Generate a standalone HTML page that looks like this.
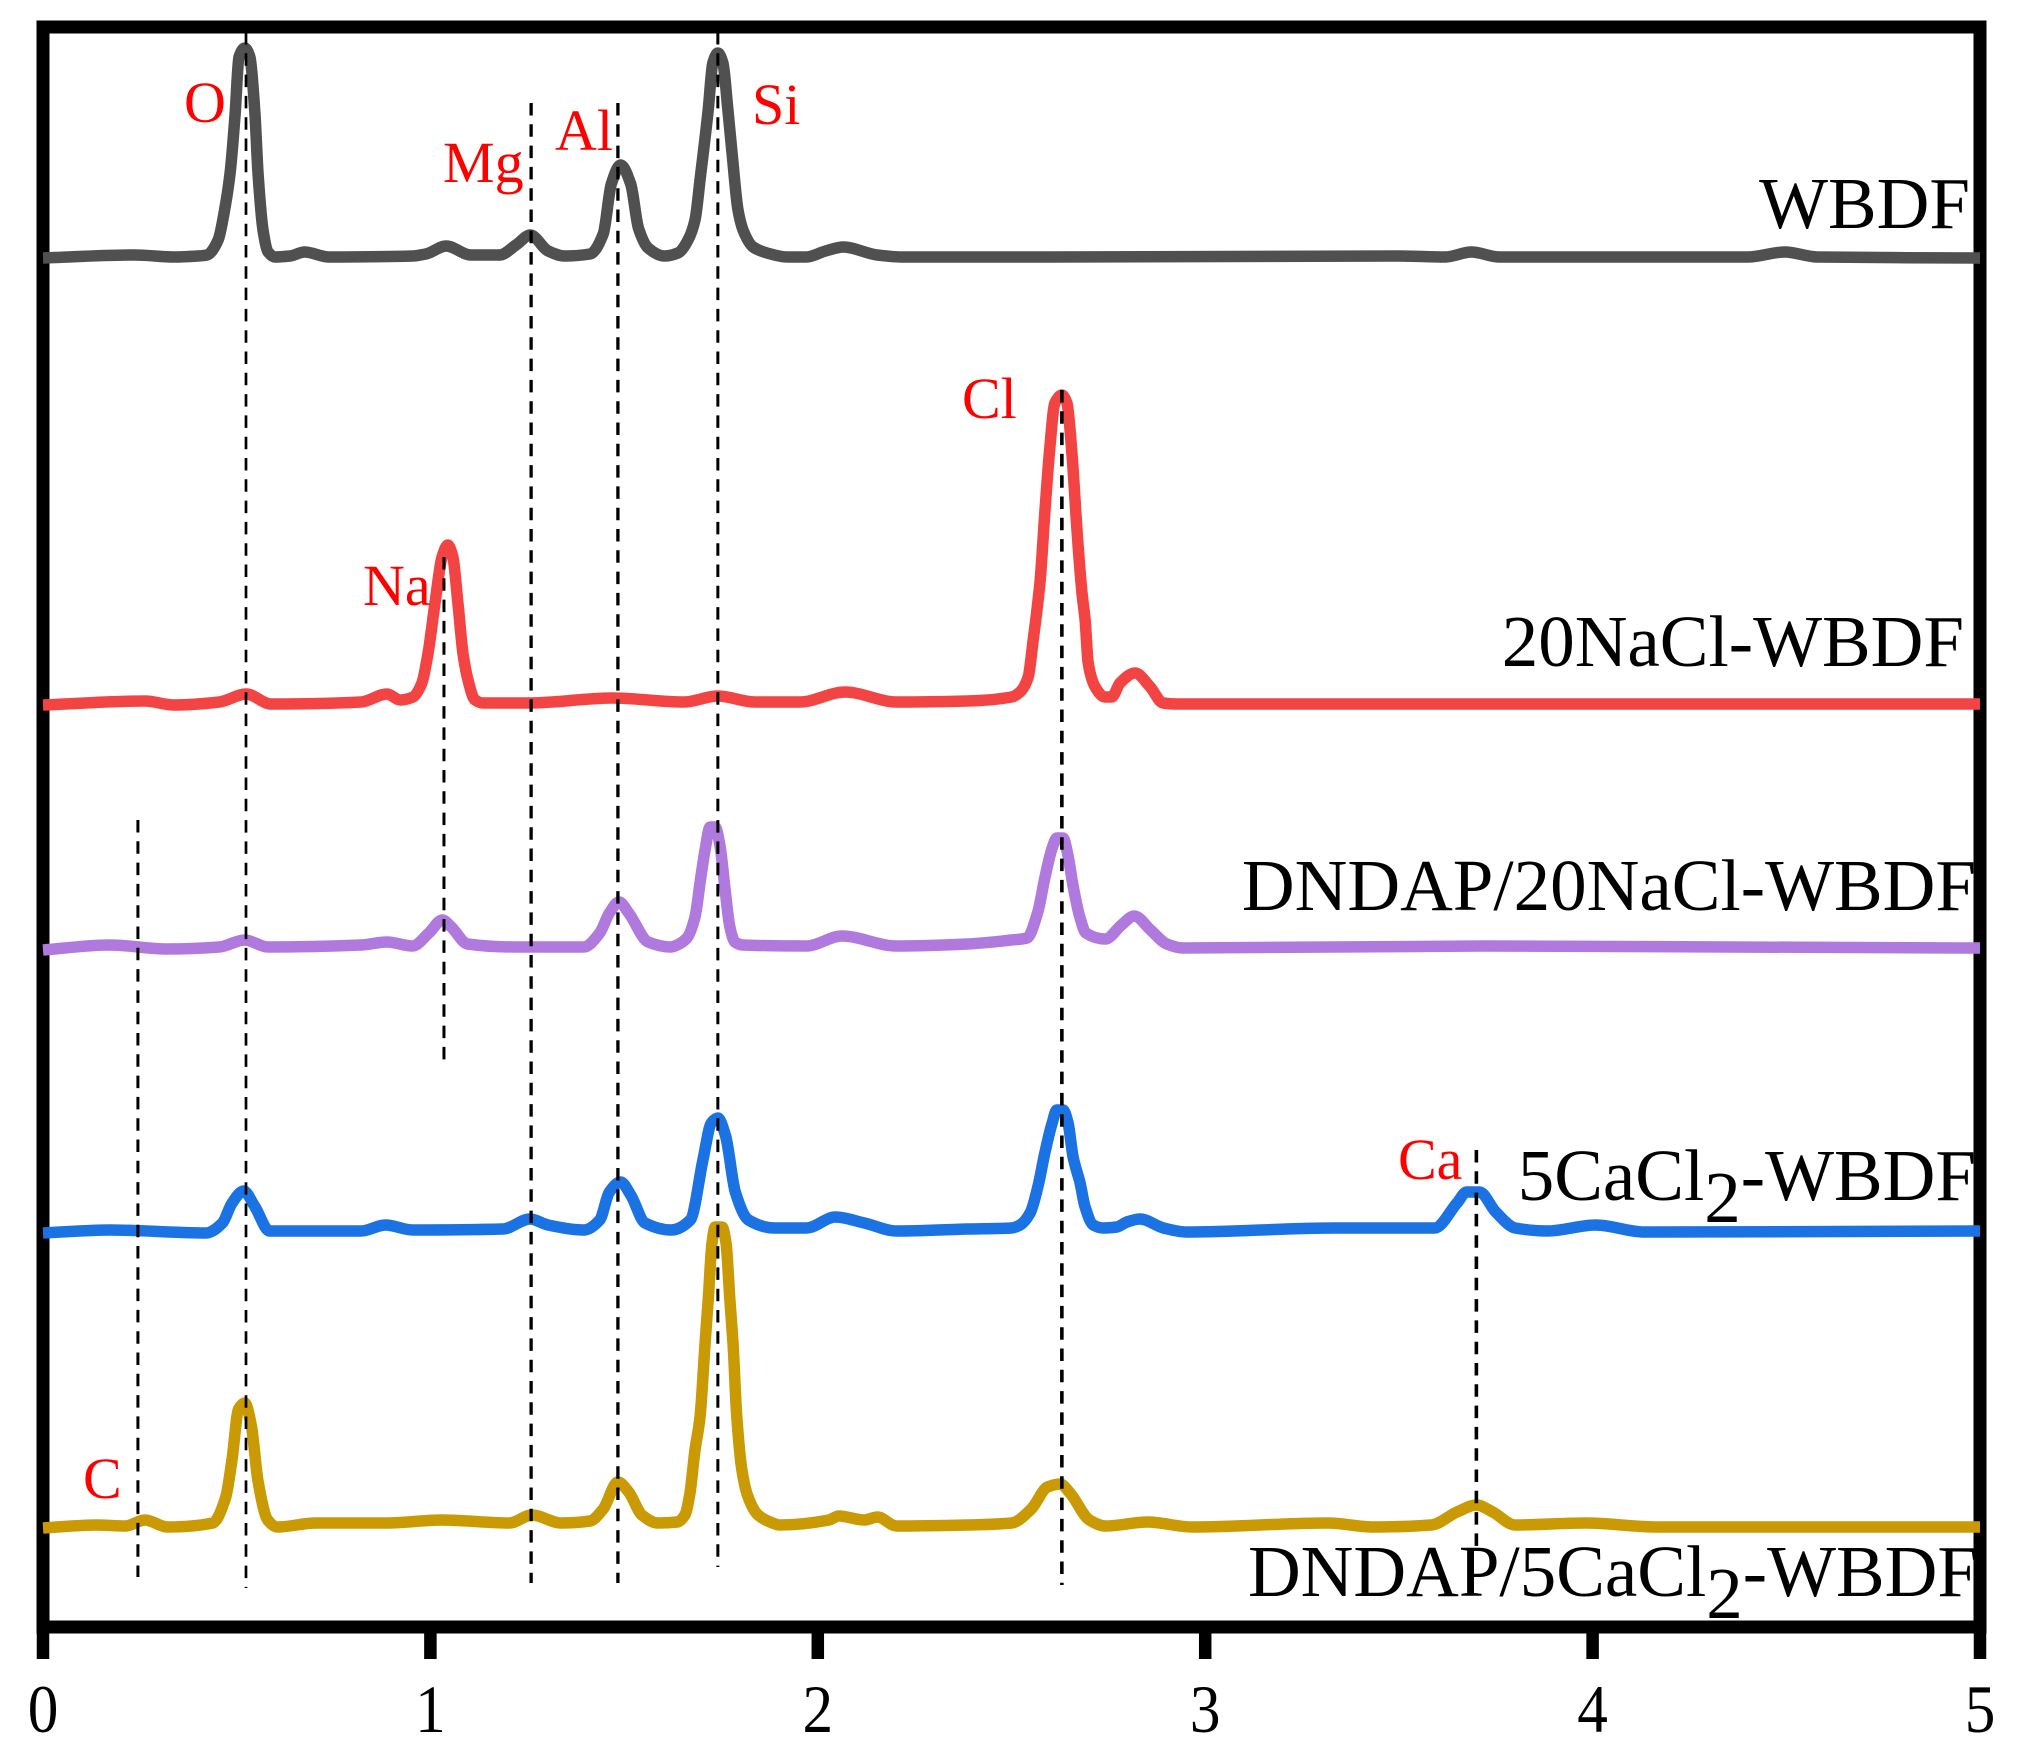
<!DOCTYPE html>
<html lang="en">
<head>
<meta charset="utf-8">
<title>EDS spectra of WBDF samples</title>
<style>
html,body{margin:0;padding:0;background:#fff;width:2024px;height:1748px;overflow:hidden}
svg{display:block}
text{font-family:"Liberation Serif",serif}
.sample{font-size:73px;fill:#000;text-anchor:end}
.element{font-size:58px;fill:#ff0000}
.tick-label{font-size:68px;fill:#000;text-anchor:middle}
</style>
</head>
<body>
<svg id="chart" xmlns="http://www.w3.org/2000/svg" width="2024" height="1748" viewBox="0 0 2024 1748">
  <rect x="0" y="0" width="2024" height="1748" fill="#ffffff"/>
  <g id="axes"></g>
  <g id="series"></g>
  <g id="peak-lines"></g>
  <g>
    <text class="element" x="184" y="122">O</text>
    <text class="element" x="443" y="182">Mg</text>
    <text class="element" x="555" y="150">Al</text>
    <text class="element" x="752" y="124">Si</text>
    <text class="element" x="962" y="418">Cl</text>
    <text class="element" x="363" y="605">Na</text>
    <text class="element" x="1398" y="1179">Ca</text>
    <text class="element" x="83" y="1498">C</text>
  </g>
  <g>
    <text class="sample" x="1970" y="228">WBDF</text>
    <text class="sample" x="1964" y="666">20NaCl-WBDF</text>
    <text class="sample" x="1976" y="910">DNDAP/20NaCl-WBDF</text>
    <text class="sample" x="1976" y="1200">5CaCl<tspan dy="22">2</tspan><tspan dy="-22">-WBDF</tspan></text>
    <text class="sample" x="1978" y="1596">DNDAP/5CaCl<tspan dy="22">2</tspan><tspan dy="-22">-WBDF</tspan></text>
  </g>
</svg>
<script>
// Tick labels
const xTicks = [0, 1, 2, 3, 4, 5];

// WBDF
const wbdfEnergy = [0,.238,.338,.400,.423,.452,.470,.483,.496,.506,
  .521,.534,.547,.555,.568,.581,.599,.638,.675,.738,
  .954,.988,1.041,1.104,1.179,1.221,1.258,1.304,1.346,1.412,
  1.446,1.467,1.491,1.517,1.537,1.562,1.604,1.639,1.665,1.683,
  1.696,1.717,1.729,1.742,1.755,1.768,1.781,1.794,1.807,1.833,
  1.869,1.921,1.970,2.020,2.066,2.153,2.220,2.6,3.5,3.62,
  3.687,3.76,4.4,4.496,4.58,5];
const wbdfCounts = [0,3,1,2,3,18,51,85,145,201,
  210,201,145,85,28,6,1,2,6,1,
  2,4,12,3,3,13,23,7,2,4,
  24,74,93,74,30,10,2,5,18,38,
  78,148,195,205,195,148,95,48,28,11,
  5,1,1,7,11,3,1,1,2,1,
  6,1,1,6,1,0];

// 20NaCl-WBDF
const naclEnergy = [0,.263,.338,.455,.525,.588,.821,.888,.922,.955,
  .978,.994,1.012,1.030,1.045,1.058,1.071,1.084,1.097,1.115,
  1.136,1.254,1.471,1.654,1.742,1.837,1.954,2.070,2.204,2.386,
  2.500,2.522,2.543,2.556,2.574,2.586,2.599,2.612,2.630,2.643,
  2.656,2.669,2.682,2.690,2.698,2.716,2.741,2.759,2.780,2.819,
  2.858,2.891,2.927,5];
const naclCounts = [-1,3,-1,2,10,0,2,10,4,7,
  21,51,101,147,159,147,101,51,24,4,
  1,1,6,2,8,2,2,12,2,3,
  7,12,27,64,124,191,257,301,309,301,
  251,174,111,84,41,17,7,7,21,31,
  17,1,0,0];

// DNDAP/20NaCl-WBDF
const dndapNaclEnergy = [0,.172,.321,.455,.521,.580,.821,.888,.954,.996,
  1.031,1.054,1.096,1.221,1.396,1.437,1.462,1.487,1.512,1.562,
  1.621,1.637,1.662,1.683,1.696,1.709,1.722,1.735,1.748,1.760,
  1.773,1.786,1.807,1.971,2.062,2.203,2.386,2.500,2.540,2.568,
  2.586,2.605,2.617,2.633,2.646,2.659,2.677,2.692,2.742,2.784,
  2.817,2.859,2.901,2.942,3.717,5];
const dndapNaclCounts = [-2,3,-1,1,8,1,3,6,2,15,
  28,21,4,1,1,15,35,46,35,6,
  1,3,10,31,65,98,121,121,101,61,
  21,6,3,2,12,2,4,8,10,36,
  70,100,110,110,92,62,30,15,9,23,
  32,18,4,0,2,0];

// 5CaCl2-WBDF
const caclEnergy = [0,.172,.421,.463,.488,.518,.546,.585,.821,.884,
  .954,1.187,1.257,1.304,1.396,1.437,1.462,1.491,1.517,1.554,
  1.621,1.671,1.704,1.725,1.742,1.762,1.787,1.821,1.887,1.971,
  2.045,2.120,2.203,2.386,2.500,
  2.522,2.548,2.568,2.586,2.605,2.617,2.633,2.646,2.659,2.677,
  2.690,2.711,2.736,2.772,2.798,2.832,2.892,2.951,3.334,3.592,
  3.650,3.675,3.708,3.750,3.800,3.883,4.008,4.133,5];
const caclCounts = [-2,1,-2,8,28,40,25,0,0,6,
  1,2,12,6,1,11,39,49,36,8,
  1,11,72,108,113,95,39,11,3,3,
  14,8,0,2,3,
  6,18,44,78,108,121,121,108,74,48,
  24,6,3,4,9,12,3,-1,3,3,
  28,39,39,19,3,0,6,-1,0];

// DNDAP/5CaCl2-WBDF
const dndapCaclEnergy = [0,.138,.213,.263,.321,.438,.471,.488,.505,.521,
  .538,.555,.580,.605,.704,.888,1.029,1.204,1.262,1.337,
  1.412,1.446,1.484,1.512,1.546,1.587,1.637,1.657,1.670,1.683,
  1.696,1.709,1.717,1.727,1.735,1.753,1.763,1.773,1.781,1.791,
  1.804,1.820,1.846,1.877,1.902,2.029,2.054,2.120,2.154,2.203,
  2.386,2.500,2.551,2.593,2.626,2.651,2.701,2.742,2.851,2.967,
  3.317,3.434,3.584,3.650,3.700,3.742,3.800,3.983,4.166,5];
const dndapCaclCounts = [-1,2,1,7,0,4,29,68,118,124,
  101,46,7,0,4,4,7,4,12,4,
  6,18,45,35,12,4,5,12,34,77,
  110,184,227,284,300,300,284,227,184,110,
  57,30,12,5,2,7,11,7,10,1,
  2,4,18,40,43,34,7,1,5,0,
  4,0,2,15,22,15,2,4,0,0];

// Vertical stacking baselines of the five spectra
const seriesBaselines = [1369, 923, 679, 396, 100];
const seriesNames = ['wbdf', '20nacl-wbdf', 'dndap-20nacl-wbdf', '5cacl2-wbdf', 'dndap-5cacl2-wbdf'];
const seriesEnergies = [wbdfEnergy, naclEnergy, dndapNaclEnergy, caclEnergy, dndapCaclEnergy];
const seriesCounts = [wbdfCounts, naclCounts, dndapNaclCounts, caclCounts, dndapCaclCounts];
const seriesColors = ['#505050', '#f34444', '#b079de', '#1b72e3', '#ca9a05'];

// Peak reference lines: element, energy (keV), top and bottom intensity
const peakElements = ['o', 'mg', 'al', 'si', 'na', 'c', 'cl', 'ca'];
const peakEnergies = [0.524, 1.26, 1.484, 1.742, 1.035, 0.245, 2.63, 3.70];
const peakTops = [1595, 1524, 1524, 1595, 1070, 807, 1237, 477];
const peakBottoms = [39, 44, 44, 60, 563, 50, 42, 81];
const peakStrokes = [2.7, 3.3, 3.3, 3, 3, 3, 3.6, 3.6];

const NS = 'http://www.w3.org/2000/svg';
const plotLeft = 43, plotRight = 1980, plotTop = 27, plotBottom = 1627;
const xMin = 0, xMax = 5, yMin = 0, yMax = 1600;
function xAxis(e) { return plotLeft + (e - xMin) / (xMax - xMin) * (plotRight - plotLeft); }
function yAxis(v) { return plotBottom - (v - yMin) / (yMax - yMin) * (plotBottom - plotTop); }

// Monotone cubic path through the points: no overshoot or loops on uneven spacing
function smoothPath(p) {
  const n = p.length;
  const sec = [];
  for (let i = 0; i < n - 1; i++) {
    sec.push((p[i + 1][1] - p[i][1]) / (p[i + 1][0] - p[i][0]));
  }
  const tan = [sec[0]];
  for (let i = 1; i < n - 1; i++) {
    if (sec[i - 1] * sec[i] <= 0) {
      tan.push(0);
    } else {
      const h0 = p[i][0] - p[i - 1][0], h1 = p[i + 1][0] - p[i][0];
      const w0 = 2 * h1 + h0, w1 = h1 + 2 * h0;
      tan.push((w0 + w1) / (w0 / sec[i - 1] + w1 / sec[i]));
    }
  }
  tan.push(sec[n - 2]);
  let d = 'M' + p[0][0].toFixed(1) + ' ' + p[0][1].toFixed(1);
  for (let i = 0; i < n - 1; i++) {
    const dx = (p[i + 1][0] - p[i][0]) / 3;
    d += 'C' + (p[i][0] + dx).toFixed(1) + ' ' + (p[i][1] + tan[i] * dx).toFixed(1) + ' ' +
      (p[i + 1][0] - dx).toFixed(1) + ' ' + (p[i + 1][1] - tan[i + 1] * dx).toFixed(1) + ' ' +
      p[i + 1][0].toFixed(1) + ' ' + p[i + 1][1].toFixed(1);
  }
  return d;
}

const axes = document.getElementById('axes');
const frame = document.createElementNS(NS, 'rect');


frame.setAttribute('x', plotLeft);
frame.setAttribute('y', plotTop);
frame.setAttribute('width', plotRight - plotLeft);
frame.setAttribute('height', plotBottom - plotTop);
frame.setAttribute('fill', 'none');
frame.setAttribute('stroke', '#000');
frame.setAttribute('stroke-width', '13');
axes.appendChild(frame);

xTicks.forEach(function (t) {
  const mark = document.createElementNS(NS, 'line');
  
  
  mark.setAttribute('x1', xAxis(t));
  mark.setAttribute('x2', xAxis(t));
  mark.setAttribute('y1', plotBottom);
  mark.setAttribute('y2', plotBottom + 32);
  mark.setAttribute('stroke', '#000');
  mark.setAttribute('stroke-width', '12.5');
  axes.appendChild(mark);
  const label = document.createElementNS(NS, 'text');
  
  
  label.setAttribute('class', 'tick-label');
  label.setAttribute('transform', 'translate(' + xAxis(t) + ' ' + (plotBottom + 105) + ') scale(0.9 1)');
  label.textContent = String(t);
  axes.appendChild(label);
});

const seriesGroup = document.getElementById('series');
seriesNames.forEach(function (name, i) {
  const base = seriesBaselines[i];
  const pts = seriesEnergies[i].map(function (e, k) {
    return [xAxis(e), yAxis(base + seriesCounts[i][k])];
  });
  const line = document.createElementNS(NS, 'path');
  
  
  line.setAttribute('d', smoothPath(pts));
  line.setAttribute('fill', 'none');
  line.setAttribute('stroke', seriesColors[i]);
  line.setAttribute('stroke-width', '11.5');
  line.setAttribute('stroke-linejoin', 'round');
  seriesGroup.appendChild(line);
});

const peakGroup = document.getElementById('peak-lines');
peakElements.forEach(function (el, i) {
  const dash = document.createElementNS(NS, 'line');
  
  
  dash.setAttribute('x1', xAxis(peakEnergies[i]));
  dash.setAttribute('x2', xAxis(peakEnergies[i]));
  dash.setAttribute('y1', yAxis(peakTops[i]));
  dash.setAttribute('y2', yAxis(peakBottoms[i]));
  dash.setAttribute('stroke', '#000');
  dash.setAttribute('stroke-width', peakStrokes[i]);
  dash.setAttribute('stroke-dasharray', '12.5 8.8');
  peakGroup.appendChild(dash);
});
</script>
</body>
</html>
